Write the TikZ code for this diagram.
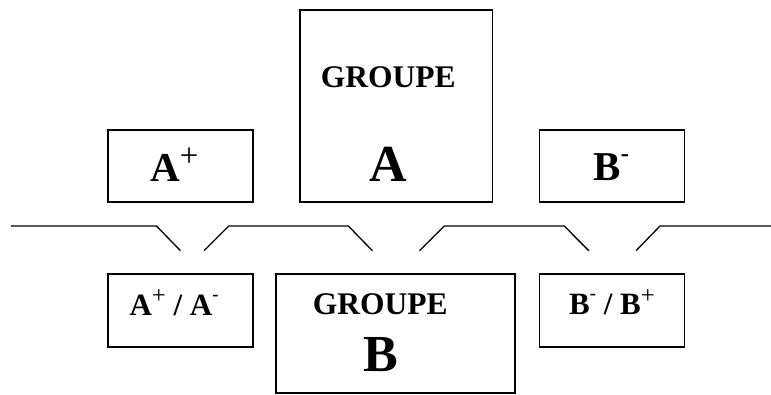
\documentclass[tikz,border=0pt]{standalone}
\usepackage{fontspec}
\setmainfont{Liberation Serif}
\usepackage{tikz}
\newcommand{\fsize}[1]{\fontsize{#1}{#1}\selectfont\bfseries}
\newcommand{\expo}[1]{\raisebox{0.47em}{\scalebox{0.6}{#1}}}
\newcommand{\plus}{\raisebox{0.36em}{\scalebox{0.8}{\mdseries+}}}
\tikzset{
    box/.style={draw, line width=1.6pt, inner sep=0pt},
    lbl/.style={inner sep=0pt, anchor=base},
    brk/.style={line width=1.3pt},
}

\begin{document}
\begin{tikzpicture}[x=1pt, y=-1pt]
    \useasboundingbox (0,0) rectangle (771,394);
    % top row
    \node[box, minimum width=145pt, minimum height=72pt] (ap) at (180.5,166) {};
    \node[box, minimum width=192.7pt, minimum height=192pt] (ga) at (396.3,106) {};
    \node[box, minimum width=145pt, minimum height=72pt] (bm) at (612,166) {};
    \node[lbl, anchor=base west, font=\fsize{41}] (apt) at (150,181.7) {A\plus};
    \node[lbl, font=\fsize{31.5}] (gat) at (388.3,87.3) {GROUPE};
    \node[lbl, font=\fsize{52}] (gal) at (387.8,181.7) {A};
    \node[lbl, anchor=base west, font=\fsize{41}] (bmt) at (593.3,180.7) {B\expo{-}};
    % bottom row
    \node[box, minimum width=145pt, minimum height=73pt] (apm) at (180.5,310.5) {};
    \node[box, minimum width=239pt, minimum height=119pt] (gb) at (395.5,333.5) {};
    \node[box, minimum width=145pt, minimum height=73pt] (bmp) at (612,310.5) {};
    \node[lbl, anchor=base west, font=\fsize{31}] (apmt) at (129.3,315) {A\plus{} / A\expo{-}};
    \node[lbl, font=\fsize{31.5}] (gbt) at (380.3,314.3) {GROUPE};
    \node[lbl, font=\fsize{52}] (gbl) at (380.8,371) {B};
    \node[lbl, anchor=base west, font=\fsize{31}] (bmpt) at (569,314.3) {B\expo{-} / B\plus};
    % brackets
    \coordinate (l0) at (10.8,226);
    \coordinate (l1) at (156.4,226);
    \coordinate (l2) at (180.5,250.7);
    \coordinate (m0) at (204,250.7);
    \coordinate (m1) at (228.7,226);
    \coordinate (m2) at (348.3,226);
    \coordinate (m3) at (372.4,250.7);
    \coordinate (n0) at (419.6,250.7);
    \coordinate (n1) at (444.2,226);
    \coordinate (n2) at (564.2,226);
    \coordinate (n3) at (588.8,250.7);
    \coordinate (r0) at (636,250.7);
    \coordinate (r1) at (660,226);
    \coordinate (r2) at (771,226);
    \draw[brk] (l0) -- (l1) -- (l2);
    \draw[brk] (m0) -- (m1) -- (m2) -- (m3);
    \draw[brk] (n0) -- (n1) -- (n2) -- (n3);
    \draw[brk] (r0) -- (r1) -- (r2);
\end{tikzpicture}
\end{document}
